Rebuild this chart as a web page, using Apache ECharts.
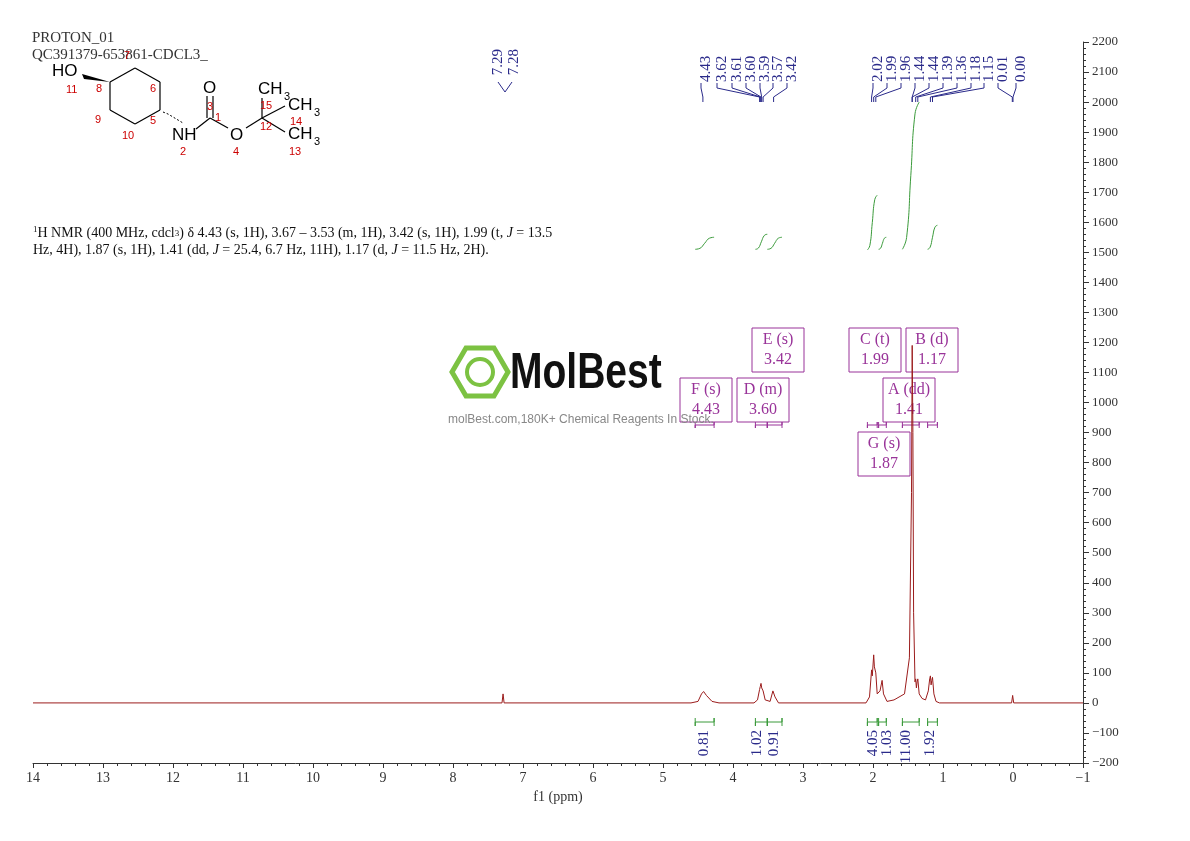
<!DOCTYPE html>
<html><head><meta charset="utf-8">
<script src="https://cdn.jsdelivr.net/npm/echarts@6/dist/echarts.min.js"></script>
<style>html,body{margin:0;background:#fff}#main{width:1190px;height:841px}</style>
</head><body><div id="main"></div>
<script>
// spectrum points [ppm, intensity]
var spectrum = [[14,0],[7.30,0],[7.285,30],[7.27,0],[4.6,0],[4.5,5],[4.45,30],[4.42,38],[4.38,25],[4.3,5],[4.2,0],
  [3.7,0],[3.65,10],[3.62,45],[3.61,55],[3.60,65],[3.59,50],[3.57,40],[3.54,10],[3.47,5],[3.43,40],[3.42,45],[3.40,20],[3.35,0],
  [2.1,0],[2.05,20],[2.02,110],[2.01,90],[1.99,160],[1.98,120],[1.96,100],[1.94,30],[1.90,40],[1.87,75],[1.85,30],[1.80,5],
  [1.70,10],[1.55,30],[1.48,150],[1.45,700],[1.44,1190],[1.43,900],[1.42,300],[1.40,70],[1.39,80],[1.38,50],[1.37,70],[1.36,80],
  [1.34,30],[1.30,15],[1.25,10],[1.21,40],[1.19,80],[1.18,90],[1.17,60],[1.16,75],[1.15,85],[1.13,30],[1.10,5],[1.05,0],
  [0.02,0],[0.005,25],[-0.01,0],[-1,0]];
// integral curves: [start ppm, end ppm, start level, end level]
var integrals = [[4.54,4.27,1510,1550],[3.68,3.51,1510,1560],[3.51,3.30,1510,1550],[2.08,1.94,1508,1690],
  [1.92,1.81,1510,1550],[1.58,1.34,1510,2000],[1.22,1.08,1510,1590]];
var integralValues = ['0.81','1.02','0.91','4.05','1.03','11.00','1.92'];
var integralPos = [4.42,3.66,3.42,2.00,1.80,1.53,1.18];
var peakLabels = ['4.43','3.62','3.61','3.60','3.59','3.57','3.42','2.02','1.99','1.96','1.44','1.44','1.39','1.36','1.18','1.15','0.01','0.00'];
var peakPpm = [4.43,3.62,3.61,3.60,3.59,3.57,3.42,2.02,1.99,1.96,1.44,1.44,1.39,1.36,1.18,1.15,0.01,0.00];
var peakLabelX = [700,716,731,745,759,772,786,872,886,900,914,928,942,956,970,983,997,1015];
var multiplets = [['E (s)','3.42',752,328],['C (t)','1.99',849,328],['B (d)','1.17',906,328],
  ['F (s)','4.43',680,378],['D (m)','3.60',737,378],['A (dd)','1.41',883,378],['G (s)','1.87',858,432]];

function px(ppm){ return 33 + (14 - ppm) * 1050 / 15; }
var serif = '"Liberation Serif","DejaVu Serif",serif';
var graphic = [];
var navy = '#2a2a8a', purple = '#993399', green = '#3a9a3a';

peakLabels.forEach(function(t, i){
  graphic.push({type:'text', x:peakLabelX[i]+6, y:82, rotation:Math.PI/2,
    style:{text:t, font:'15px '+serif, fill:navy, align:'left', verticalAlign:'middle'}});
});
graphic.push({type:'text', x:498, y:62, rotation:Math.PI/2, style:{text:'7.29', font:'15px '+serif, fill:navy, align:'center', verticalAlign:'middle'}});
graphic.push({type:'text', x:514, y:62, rotation:Math.PI/2, style:{text:'7.28', font:'15px '+serif, fill:navy, align:'center', verticalAlign:'middle'}});
graphic.push({type:'polyline', shape:{points:[[498,82],[505,92],[512,82]]}, style:{stroke:navy, fill:null, lineWidth:1}});
peakPpm.forEach(function(p, i){
  var x0 = peakLabelX[i]+1, x1 = px(p);
  graphic.push({type:'polyline', shape:{points:[[x0,83],[x0,88],[x1,97],[x1,102]]}, style:{stroke:navy, fill:null, lineWidth:1}});
});

multiplets.forEach(function(m){
  graphic.push({type:'rect', shape:{x:m[2], y:m[3], width:52, height:44}, style:{stroke:purple, fill:null, lineWidth:1}});
  graphic.push({type:'text', x:m[2]+26, y:m[3]+12, style:{text:m[0], font:'16px '+serif, fill:purple, align:'center', verticalAlign:'middle'}});
  graphic.push({type:'text', x:m[2]+26, y:m[3]+32, style:{text:m[1], font:'16px '+serif, fill:purple, align:'center', verticalAlign:'middle'}});
});
integrals.forEach(function(r){
  var a = px(r[0]), b = px(r[1]);
  graphic.push({type:'polyline', shape:{points:[[a,422],[a,428],[a,425],[b,425],[b,422],[b,428]]}, style:{stroke:purple, fill:null, lineWidth:1}});
  graphic.push({type:'polyline', shape:{points:[[a,718],[a,726],[a,722],[b,722],[b,718],[b,726]]}, style:{stroke:green, fill:null, lineWidth:1}});
});
integralValues.forEach(function(v, i){
  graphic.push({type:'text', x:px(integralPos[i]), y:730, rotation:Math.PI/2,
    style:{text:v, font:'15px '+serif, fill:navy, align:'right', verticalAlign:'middle'}});
});

graphic.push({type:'text', left:32, top:30, style:{text:'PROTON_01\nQC391379-653861-CDCL3_', font:'15px '+serif, fill:'#333', lineHeight:17}});
graphic.push({type:'text', left:33, top:225, style:{
  text:'{s|1}H NMR (400 MHz, cdcl{b|3}) δ 4.43 (s, 1H), 3.67 – 3.53 (m, 1H), 3.42 (s, 1H), 1.99 (t, {i|J} = 13.5\nHz, 4H), 1.87 (s, 1H), 1.41 (dd, {i|J} = 25.4, 6.7 Hz, 11H), 1.17 (d, {i|J} = 11.5 Hz, 2H).',
  font:'14px '+serif, fill:'#111', lineHeight:17,
  rich:{s:{font:'9px '+serif, verticalAlign:'top'}, b:{font:'9px '+serif}, i:{font:'italic 14px '+serif}}}});

// molecule sketch
var ring = [[110,82],[135,68],[160,82],[160,110],[135,124],[110,110]];
var bonds = [[ring[0],ring[1]],[ring[1],ring[2]],[ring[2],ring[3]],[ring[3],ring[4]],[ring[4],ring[5]],[ring[5],ring[0]],
  [[196,129],[210,118]],[[210,118],[228,128]],[[246,128],[262,118]],[[262,118],[262,98]],[[262,118],[285,106]],[[262,118],[285,132]]];
bonds.forEach(function(b){ graphic.push({type:'line', shape:{x1:b[0][0],y1:b[0][1],x2:b[1][0],y2:b[1][1]}, style:{stroke:'#000', lineWidth:1.2}}); });
graphic.push({type:'line', shape:{x1:207,y1:118,x2:207,y2:96}, style:{stroke:'#000', lineWidth:1.2}});
graphic.push({type:'line', shape:{x1:213,y1:118,x2:213,y2:96}, style:{stroke:'#000', lineWidth:1.2}});
graphic.push({type:'polygon', shape:{points:[[110,82],[82,74],[84,79]]}, style:{fill:'#000'}});
graphic.push({type:'polyline', shape:{points:[[163,112],[168,114],[173,117],[178,120],[183,123]]}, style:{stroke:'#000', lineWidth:1, lineDash:[2,2]}});
[['HO',52,63,17],['NH',172,127,17],['O',203,80,17],['O',230,127,17],['CH',258,81,17],['3',284,91,11],['CH',288,97,17],['3',314,107,11],['CH',288,126,17],['3',314,136,11]]
  .forEach(function(t){ graphic.push({type:'text', left:t[1], top:t[2], style:{text:t[0], font:t[3]+'px "Liberation Sans",Arial', fill:'#000'}}); });
[['11',66,84],['8',96,83],['7',124,50],['6',150,83],['9',95,114],['10',122,130],['5',150,115],['2',180,146],['3',207,101],['1',215,112],['4',233,146],['15',260,100],['12',260,121],['14',290,116],['13',289,146]]
  .forEach(function(t){ graphic.push({type:'text', left:t[1], top:t[2], style:{text:t[0], font:'11px "Liberation Sans",Arial', fill:'#cc0000'}}); });

// watermark
graphic.push({type:'polygon', shape:{points:[[466,348],[494,348],[508,372],[494,396],[466,396],[452,372]]}, style:{fill:null, stroke:'#7cc242', lineWidth:5}});
graphic.push({type:'circle', shape:{cx:480, cy:372, r:13}, style:{fill:null, stroke:'#7cc242', lineWidth:4}});
graphic.push({type:'text', x:510, y:374, scaleX:0.78, style:{text:'MolBest', font:'bold 50px "Liberation Sans",Arial', fill:'#111', verticalAlign:'middle'}});
graphic.push({type:'text', left:448, top:414, style:{text:'molBest.com,180K+ Chemical Reagents In Stock.', font:'12px "Liberation Sans",Arial', fill:'#888'}});

var integralSeries = integrals.map(function(r){
  return {type:'line', data:[[r[0],r[2]],[(r[0]*3+r[1])/4,r[2]+(r[3]-r[2])*0.08],[(r[0]+r[1])/2,(r[2]+r[3])/2],[(r[0]+r[1]*3)/4,r[3]-(r[3]-r[2])*0.08],[r[1],r[3]]],
    smooth:true, symbol:'none', lineStyle:{color:green, width:1}, silent:true, z:3};
});

var neg = function(v){ return v < 0 ? '\u2212' + (-v) : v; };
var chart = echarts.init(document.getElementById('main'));
chart.setOption({
  animation:false,
  grid:{left:33, right:107, top:42, bottom:78},
  xAxis:{type:'value', inverse:true, min:-1, max:14, interval:1, name:'f1 (ppm)', nameLocation:'middle', nameGap:26,
    nameTextStyle:{fontFamily:serif, fontSize:14, color:'#333'},
    axisLine:{onZero:false, lineStyle:{color:'#333'}}, axisTick:{length:5, lineStyle:{color:'#333'}},
    minorTick:{show:true, splitNumber:5, length:3}, splitLine:{show:false},
    axisLabel:{fontFamily:serif, fontSize:14, color:'#333', formatter:neg}},
  yAxis:{type:'value', position:'right', min:-200, max:2200, interval:100,
    axisLine:{show:true, onZero:false, lineStyle:{color:'#333'}}, axisTick:{show:true, length:6, lineStyle:{color:'#333'}},
    minorTick:{show:true, splitNumber:5, length:3}, splitLine:{show:false},
    axisLabel:{fontFamily:serif, fontSize:13, color:'#333', margin:9, formatter:neg}},
  series:[{type:'line', data:spectrum, symbol:'none', lineStyle:{color:'#9b1c1c', width:1}, z:4}].concat(integralSeries),
  graphic:graphic
});
</script></body></html>
